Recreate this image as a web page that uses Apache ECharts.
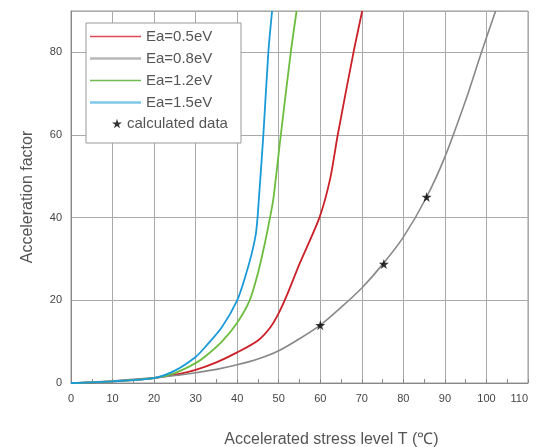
<!DOCTYPE html>
<html>
<head>
<meta charset="utf-8">
<script src="https://cdn.jsdelivr.net/npm/echarts@6/dist/echarts.min.js"></script>
<style>html,body{margin:0;padding:0;background:#fff}#c{width:540px;height:447px}</style>
</head>
<body>
<div id="c"></div>
<script>
// ---- data ----
var xTicks = [0, 10, 20, 30, 40, 50, 60, 70, 80, 90, 100, 110];
var yTicks = [0, 20, 40, 60, 80];
var seriesNames = ['Ea=0.5eV', 'Ea=0.8eV', 'Ea=1.2eV', 'Ea=1.5eV'];
var starName = 'calculated data';

var ea05X = [0, 10, 20, 25, 30, 35, 40, 45, 48, 50, 52, 55, 59.8, 62.4, 64.2, 68, 70.1];
var ea05Y = [0, 0.4, 1.2, 2.0, 3.2, 5.0, 7.4, 10.3, 13.5, 16.9, 21.3, 28.8, 40, 49.5, 60, 80, 90];

var ea08X = [0, 5, 10, 15, 20, 25, 30, 35, 40, 45, 50, 55, 60, 65, 70, 75, 80, 85.6, 90, 95, 98.8, 102.2];
var ea08Y = [0, 0.2, 0.5, 0.9, 1.3, 1.8, 2.5, 3.3, 4.4, 5.8, 7.8, 10.7, 14, 18.3, 23, 28.7, 35.3, 45, 54.7, 68.4, 80, 90];

var ea12X = [0, 10, 20, 25, 30, 32.3, 36.3, 40, 43, 45.1, 46.7, 47.9, 48.7, 50.5, 52.9, 54.3];
var ea12Y = [0, 0.4, 1.2, 2.4, 4.8, 6.4, 10.0, 14.6, 20, 27, 34, 40, 44.5, 60, 80, 90];

var ea15X = [0, 10, 20, 25, 30, 32.3, 36.3, 40, 41.9, 43.5, 44.5, 44.9, 45.2, 46.3, 47.5, 48.4];
var ea15Y = [0, 0.4, 1.2, 3.0, 6.3, 8.7, 13.5, 20, 25.6, 31.3, 36.1, 40, 44.2, 60, 80, 90];

var starX = [60, 75.3, 85.6];
var starY = [14, 28.8, 45];

function pairs(xs, ys) { return xs.map(function (x, i) { return [x, ys[i]]; }); }

var starPath = 'path://M50,0 L61,35 L98,35 L68,57 L79,91 L50,70 L21,91 L32,57 L2,35 L39,35 Z';
var FONT = '"Liberation Sans", Arial, sans-serif';

var chart = echarts.init(document.getElementById('c'));
chart.setOption({
  animation: false,
  backgroundColor: '#fff',
  grid: { left: 71, right: 12, top: 11, bottom: 64, show: true, borderColor: '#999', borderWidth: 1,
          containLabel: false, outerBoundsMode: 'none' },
  xAxis: {
    type: 'value', min: xTicks[0], max: xTicks[xTicks.length - 1], interval: 10,
    name: 'Accelerated stress level T (\u2103)', nameLocation: 'middle', nameGap: 49,
    nameTextStyle: { fontSize: 16, color: '#555', fontFamily: FONT, padding: [0, 0, 0, 64] },
    axisLine: { lineStyle: { color: '#888', width: 1 } },
    axisTick: { show: true, inside: true, length: 4, lineStyle: { color: '#888' } },
    minorTick: { show: true, splitNumber: 2, length: 4, lineStyle: { color: '#888' } },
    axisLabel: { fontSize: 11, color: '#444', margin: 10, fontFamily: FONT, alignMaxLabel: 'right' },
    splitLine: { show: true, lineStyle: { color: '#aaa', width: 1 } }
  },
  yAxis: {
    type: 'value', min: 0, max: 90, interval: 20,
    name: 'Acceleration factor', nameLocation: 'middle', nameGap: 35,
    nameTextStyle: { fontSize: 16, color: '#555', fontFamily: FONT },
    axisLine: { show: true, lineStyle: { color: '#888', width: 1 } },
    axisTick: { show: false },
    axisLabel: { fontSize: 11, color: '#444', margin: 9, fontFamily: FONT,
      formatter: function (v) { return yTicks.indexOf(v) >= 0 ? String(v) : ''; } },
    splitLine: { show: true, lineStyle: { color: '#aaa', width: 1 } }
  },
  graphic: [{
    type: 'rect', z: 3, shape: { x: 86, y: 23, width: 155, height: 120 },
    style: { fill: '#fff', stroke: '#999', lineWidth: 1 }
  }],
  legend: [{
    orient: 'vertical', left: 90, top: 29, padding: 0, itemGap: 7,
    itemWidth: 51, itemHeight: 14, selectedMode: false, z: 5,
    textStyle: { fontSize: 15, color: '#555', fontFamily: FONT, lineHeight: 14 },
    data: [
      { name: seriesNames[0], icon: 'path://M0,0 L100,0 L100,3 L0,3 Z', itemStyle: { color: '#e04a55' } },
      { name: seriesNames[1], icon: 'path://M0,0 L100,0 L100,5 L0,5 Z', itemStyle: { color: '#b8b8b8' } },
      { name: seriesNames[2], icon: 'path://M0,0 L100,0 L100,3 L0,3 Z', itemStyle: { color: '#72ba52' } },
      { name: seriesNames[3], icon: 'path://M0,0 L100,0 L100,5 L0,5 Z', itemStyle: { color: '#7fc8ea' } }
    ]
  }, {
    orient: 'vertical', left: 112, top: 116, padding: 0,
    itemWidth: 10, itemHeight: 10, selectedMode: false, z: 5,
    textStyle: { fontSize: 15, color: '#555', fontFamily: FONT, lineHeight: 14 },
    data: [{ name: starName, icon: starPath, itemStyle: { color: '#000' } }]
  }],
  series: [
    { name: seriesNames[0], type: 'line', data: pairs(ea05X, ea05Y), smooth: 0.25, showSymbol: false,
      lineStyle: { color: '#cc2028', width: 1.8 }, itemStyle: { color: '#cc2028' }, z: 2 },
    { name: seriesNames[1], type: 'line', data: pairs(ea08X, ea08Y), smooth: 0.25, showSymbol: false,
      lineStyle: { color: '#888888', width: 1.6 }, itemStyle: { color: '#888888' }, z: 2 },
    { name: seriesNames[2], type: 'line', data: pairs(ea12X, ea12Y), smooth: 0.25, showSymbol: false,
      lineStyle: { color: '#6cbd3e', width: 1.8 }, itemStyle: { color: '#6cbd3e' }, z: 2 },
    { name: seriesNames[3], type: 'line', data: pairs(ea15X, ea15Y), smooth: 0.25, showSymbol: false,
      lineStyle: { color: '#1a9ad8', width: 1.8 }, itemStyle: { color: '#1a9ad8' }, z: 2 },
    { name: starName, type: 'scatter', data: pairs(starX, starY), symbol: starPath, symbolSize: 10,
      itemStyle: { color: '#000' }, z: 4 }
  ]
});
</script>
</body>
</html>
